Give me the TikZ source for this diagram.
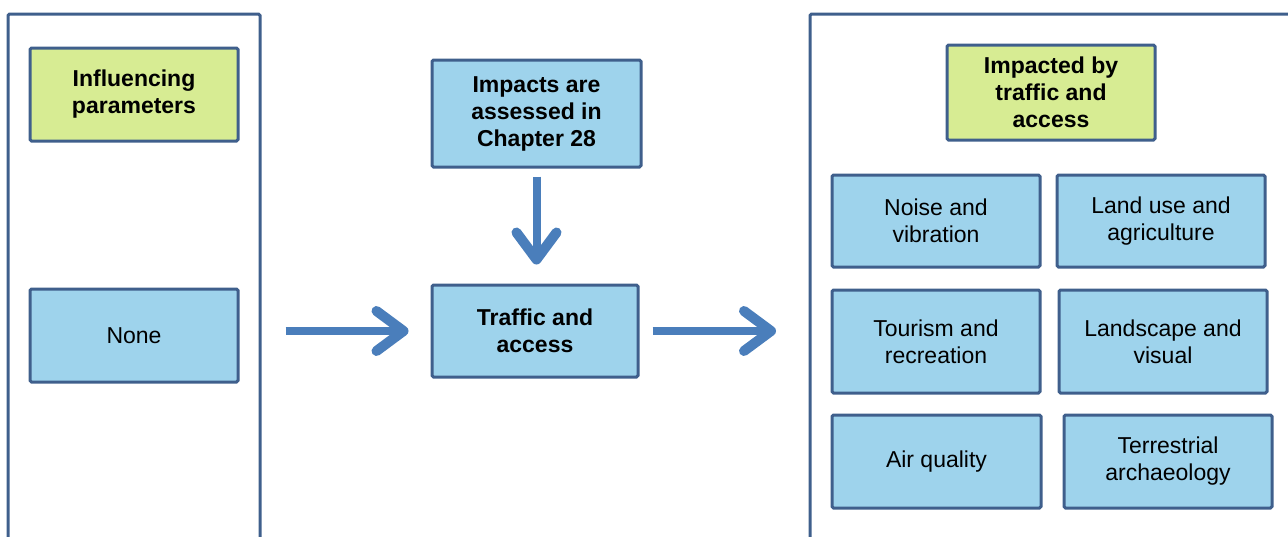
\documentclass[tikz,border=0pt]{standalone}
\usepackage{fontspec}
\setmainfont{Liberation Sans}
\usetikzlibrary{arrows.meta}
\definecolor{frameblue}{HTML}{3F5F8C}
\definecolor{boxblue}{HTML}{9ED3EC}
\definecolor{boxgreen}{HTML}{D7EC93}
\definecolor{arrowblue}{HTML}{4A7EBB}
\tikzset{
  box/.style={draw=frameblue, line width=3pt, rounded corners=1.5pt, align=center,
    inner sep=0pt, font=\fontsize{23}{27}\selectfont},
  headbox/.style={box, fill=boxgreen, font=\fontsize{23}{27}\selectfont\bfseries},
  itembox/.style={box, fill=boxblue},
  corebox/.style={box, fill=boxblue, font=\fontsize{23}{27}\selectfont\bfseries},
  panel/.style={draw=frameblue, line width=3pt, rounded corners=1.5pt},
  flow/.style={draw=arrowblue, line width=8pt,
    -{Straight Barb[length=27pt, width=40pt, line width=10pt, round]}},
}
\begin{document}
\begin{tikzpicture}[x=1pt, y=-1pt]
\useasboundingbox (0,0) rectangle (1288,536);

% side panels, open at the bottom
\draw[panel] (8,540) -- (8,14) -- (260,14) -- (260,540);
\draw[panel] (810,540) -- (810,14) -- (1295,14);
\coordinate (rightpanel) at (810,331);

% left panel
\node[headbox, minimum width=208pt, minimum height=93pt] (infl) at (134,94.5) {Influencing\\parameters};
\node[itembox, minimum width=208pt, minimum height=93pt] (none) at (134,335.5) {None};

% centre column
\node[corebox, minimum width=209pt, minimum height=107pt] (impacts) at (536.5,113.5) {Impacts are\\assessed in\\Chapter 28};
\node[corebox, minimum width=206pt, minimum height=92pt] (traffic) at (535,331) {Traffic and\\access};

% right panel
\node[headbox, minimum width=208pt, minimum height=95pt] (impacted) at (1051,92.5) {Impacted by\\traffic and\\access};
\node[itembox, minimum width=208pt, minimum height=92pt] (noise) at (936,221) {Noise and\\vibration};
\node[itembox, minimum width=208pt, minimum height=92pt] (land) at (1161,221) {Land use and\\agriculture};
\node[itembox, minimum width=208pt, minimum height=103pt] (tourism) at (936,341.5) {Tourism and\\recreation};
\node[itembox, minimum width=208pt, minimum height=103pt] (landscape) at (1163,341.5) {Landscape and\\visual};
\node[itembox, minimum width=209pt, minimum height=93pt] (air) at (936.5,461.5) {Air quality};
\node[itembox, minimum width=208pt, minimum height=93pt] (terr) at (1168,461.5) {Terrestrial\\archaeology};

% flow arrows
\draw[flow, shorten <=46pt, shorten >=22pt] (none.east |- traffic.west) -- (traffic.west);
\draw[flow, shorten <=8pt, shorten >=19pt] (impacts.south) -- (impacts.south |- traffic.north);
\draw[flow, shorten <=13pt, shorten >=34pt] (traffic.east) -- (rightpanel);
\end{tikzpicture}
\end{document}
